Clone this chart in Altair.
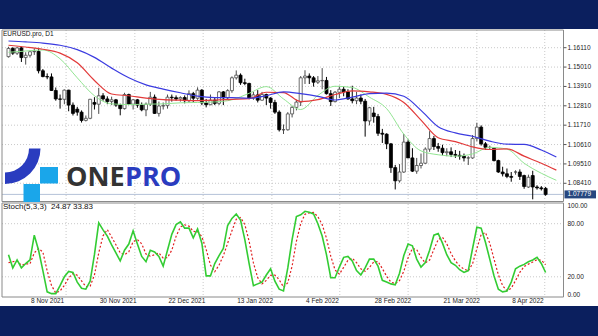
import altair as alt
import pandas as pd

# ---------------- data ----------------
OPEN = [1.1560, 1.1607, 1.1580, 1.1610, 1.1555, 1.1568, 1.1588, 1.1590, 1.1480, 1.1447,
        1.1445, 1.1368, 1.1320, 1.1318, 1.1370, 1.1285, 1.1262, 1.1245, 1.1198, 1.1210,
        1.1300, 1.1290, 1.1338, 1.1320, 1.1305, 1.1315, 1.1285, 1.1265, 1.1345, 1.1290,
        1.1315, 1.1285, 1.1258, 1.1290, 1.1330, 1.1238, 1.1280, 1.1282, 1.1330, 1.1327,
        1.1320, 1.1328, 1.1310, 1.1350, 1.1324, 1.1370, 1.1297, 1.1287, 1.1313, 1.1295,
        1.1360, 1.1326, 1.1367, 1.1440, 1.1455, 1.1412, 1.1408, 1.1325, 1.1343, 1.1313,
        1.1345, 1.1325, 1.1300, 1.1245, 1.1145, 1.1145, 1.1235, 1.1272, 1.1302, 1.1440,
        1.1450, 1.1440, 1.1415, 1.1423, 1.1425, 1.1350, 1.1305, 1.1358, 1.1375, 1.1360,
        1.1320, 1.1310, 1.1325, 1.1307, 1.1195, 1.1240, 1.1220, 1.1125, 1.1120, 1.1065,
        1.0930, 1.0855, 1.0905, 1.1075, 1.0985, 1.0910, 1.0942, 1.0955, 1.1035, 1.1095,
        1.1050, 1.1040, 1.1015, 1.1020, 1.1005, 1.1000, 1.0995, 1.0985, 1.0985, 1.1095,
        1.1160, 1.1065, 1.1045, 1.1040, 1.0970, 1.0905, 1.0895, 1.0880, 1.0905, 1.0905,
        1.0885, 1.0820, 1.0885, 1.0820, 1.0815, 1.0812]
HIGH = [1.1616, 1.1614, 1.1616, 1.1617, 1.1585, 1.1595, 1.1608, 1.1610, 1.1490, 1.1465,
        1.1465, 1.1385, 1.1345, 1.1374, 1.1372, 1.1300, 1.1275, 1.1255, 1.1226, 1.1320,
        1.1330, 1.1383, 1.1353, 1.1335, 1.1333, 1.1320, 1.1293, 1.1355, 1.1350, 1.1320,
        1.1320, 1.1300, 1.1300, 1.1360, 1.1345, 1.1305, 1.1300, 1.1345, 1.1345, 1.1340,
        1.1335, 1.1340, 1.1369, 1.1360, 1.1386, 1.1376, 1.1320, 1.1345, 1.1330, 1.1365,
        1.1365, 1.1375, 1.1448, 1.1482, 1.1465, 1.1435, 1.1412, 1.1360, 1.1370, 1.1360,
        1.1350, 1.1330, 1.1315, 1.1255, 1.1175, 1.1245, 1.1280, 1.1315, 1.1450, 1.1483,
        1.1465, 1.1450, 1.1450, 1.1495, 1.1445, 1.1370, 1.1365, 1.1395, 1.1390, 1.1375,
        1.1395, 1.1360, 1.1345, 1.1320, 1.1275, 1.1275, 1.1235, 1.1150, 1.1125, 1.1070,
        1.0945, 1.0950, 1.1121, 1.1090, 1.1040, 1.0985, 1.1010, 1.1045, 1.1137, 1.1110,
        1.1070, 1.1060, 1.1040, 1.1045, 1.1030, 1.1025, 1.1010, 1.0995, 1.1115, 1.1185,
        1.1170, 1.1075, 1.1055, 1.1045, 1.0975, 1.0935, 1.0925, 1.0905, 1.0915, 1.0920,
        1.0890, 1.0890, 1.0912, 1.0830, 1.0825, 1.0820]
LOW = [1.1555, 1.1570, 1.1570, 1.1530, 1.1515, 1.1555, 1.1570, 1.1465, 1.1443, 1.1432,
       1.1365, 1.1310, 1.1265, 1.1290, 1.1250, 1.1226, 1.1225, 1.1186, 1.1192, 1.1205,
       1.1260, 1.1235, 1.1310, 1.1290, 1.1285, 1.1275, 1.1227, 1.1260, 1.1285, 1.1260,
       1.1270, 1.1250, 1.1222, 1.1280, 1.1235, 1.1220, 1.1260, 1.1265, 1.1305, 1.1310,
       1.1305, 1.1295, 1.1300, 1.1300, 1.1315, 1.1285, 1.1272, 1.1285, 1.1285, 1.1285,
       1.1285, 1.1315, 1.1355, 1.1430, 1.1400, 1.1398, 1.1318, 1.1315, 1.1300, 1.1310,
       1.1285, 1.1265, 1.1235, 1.1135, 1.1121, 1.1140, 1.1215, 1.1255, 1.1280, 1.1405,
       1.1405, 1.1390, 1.1405, 1.1375, 1.1345, 1.1280, 1.1300, 1.1325, 1.1335, 1.1315,
       1.1295, 1.1290, 1.1290, 1.1106, 1.1170, 1.1185, 1.1110, 1.1070, 1.1035, 1.0900,
       1.0806, 1.0845, 1.0900, 1.0985, 1.0905, 1.0895, 1.0925, 1.0950, 1.1020, 1.1030,
       1.1020, 1.1000, 1.0995, 1.0990, 1.0985, 1.0975, 1.0965, 1.0945, 1.0980, 1.1080,
       1.1055, 1.1030, 1.1035, 1.0965, 1.0900, 1.0880, 1.0870, 1.0850, 1.0890, 1.0860,
       1.0810, 1.0815, 1.0750, 1.0805, 1.0800, 1.0770]
CLOSE = [1.1607, 1.1580, 1.1610, 1.1555, 1.1568, 1.1588, 1.1590, 1.1480, 1.1447, 1.1445,
         1.1368, 1.1320, 1.1318, 1.1370, 1.1285, 1.1238, 1.1245, 1.1198, 1.1210, 1.1318,
         1.1290, 1.1338, 1.1320, 1.1305, 1.1315, 1.1285, 1.1265, 1.1345, 1.1290, 1.1315,
         1.1285, 1.1258, 1.1290, 1.1330, 1.1238, 1.1280, 1.1282, 1.1330, 1.1327, 1.1320,
         1.1328, 1.1310, 1.1350, 1.1324, 1.1370, 1.1297, 1.1287, 1.1313, 1.1295, 1.1360,
         1.1326, 1.1367, 1.1440, 1.1455, 1.1412, 1.1408, 1.1325, 1.1343, 1.1313, 1.1345,
         1.1325, 1.1300, 1.1245, 1.1145, 1.1145, 1.1235, 1.1272, 1.1302, 1.1440, 1.1450,
         1.1440, 1.1415, 1.1423, 1.1425, 1.1350, 1.1305, 1.1358, 1.1375, 1.1360, 1.1320,
         1.1310, 1.1325, 1.1307, 1.1195, 1.1270, 1.1220, 1.1125, 1.1120, 1.1065, 1.0930,
         1.0855, 1.0905, 1.1075, 1.0985, 1.0910, 1.0942, 1.0955, 1.1035, 1.1095, 1.1050,
         1.1040, 1.1015, 1.1020, 1.1005, 1.1000, 1.0995, 1.0985, 1.0985, 1.1095, 1.1160,
         1.1065, 1.1045, 1.1045, 1.0970, 1.0905, 1.0895, 1.0880, 1.0875, 1.0905, 1.0880,
         1.0823, 1.0875, 1.0820, 1.0815, 1.0810, 1.07779]

STOCH_K = [45, 30, 39, 30, 35, 39, 67, 50, 27, 3, 1, 1, 10, 20, 26, 25, 14, 7, 6, 15,
           45, 81, 73, 66, 56, 47, 38, 50, 57, 72, 57, 43, 37, 50, 48, 43, 32, 50, 68, 79,
           82, 75, 75, 64, 74, 58, 21, 21, 35, 44, 52, 78, 86, 91, 84, 62, 35, 10, 12, 14,
           22, 29, 15, 6, 4, 30, 62, 88, 90, 94, 93, 91, 80, 66, 45, 19, 19, 31, 42, 43,
           38, 27, 22, 30, 40, 40, 32, 16, 14, 12, 11, 24, 44, 57, 55, 40, 31, 36, 50, 67,
           69, 58, 45, 36, 33, 28, 25, 27, 52, 76, 75, 59, 40, 21, 6, 3, 4, 14, 29, 32,
           34, 37, 39, 42, 35, 24.87]
STOCH_D = [36, 37, 38, 33, 34.7, 34.7, 47, 52, 48, 26.7, 10.3, 1.7, 4, 10.3, 18.7, 23.7, 21.7, 15.3, 9, 9.3,
           22, 47, 66.3, 73.3, 65, 56.3, 47, 45, 48.3, 59.7, 62, 57.3, 45.7, 43.3, 45, 47, 41, 41.7, 50, 65.7,
           76.3, 78.7, 77.3, 71.3, 71, 65.3, 51, 33.3, 25.7, 33.3, 43.7, 58, 72, 85, 87, 79, 60.3, 35.7, 19, 12,
           16, 21.7, 22, 16.7, 8.3, 13.3, 32, 60, 80, 90.7, 92.3, 92.7, 88, 79, 63.7, 43.3, 27.7, 23, 30.7, 38.7,
           41, 36, 29, 26.3, 30.7, 36.7, 37.3, 29.3, 20.7, 14, 12.3, 15.7, 26.3, 41.7, 52, 50.7, 42, 35.7, 39, 51,
           62, 64.7, 57.3, 46.3, 38, 32.3, 28.7, 26.7, 34.7, 51.7, 67.7, 70, 58, 40, 22.3, 10, 4.3, 7, 15.7, 25,
           31.7, 34.3, 36.7, 39.3, 38.7, 33.83]

MA_BARS = [0, 4, 8, 12, 16, 20, 24, 28, 32, 36, 40, 44, 48, 52, 56, 60, 64, 68, 72, 76,
           80, 84, 88, 92, 96, 100, 104, 108, 112, 116, 120, 124, 127.5]
MA_FAST = [1.1585, 1.1592, 1.1598, 1.1548, 1.1440, 1.1338, 1.1292, 1.1288, 1.1290, 1.1292,
           1.1298, 1.1300, 1.1303, 1.1315, 1.1352, 1.1390, 1.1320, 1.1260, 1.1340, 1.1392,
           1.1385, 1.1330, 1.1265, 1.1120, 1.1025, 1.1003, 1.0995, 1.1008, 1.1045, 1.1035,
           1.0955, 1.0898, 1.0858]
MA_MID = [1.1625, 1.1615, 1.1602, 1.1580, 1.1525, 1.1425, 1.1348, 1.1338, 1.1325, 1.1316,
          1.1313, 1.1311, 1.1313, 1.1318, 1.1322, 1.1358, 1.1356, 1.1305, 1.1316, 1.1345,
          1.1366, 1.1360, 1.1346, 1.1300, 1.1200, 1.1100, 1.1078, 1.1048, 1.1033, 1.1037,
          1.0995, 1.0955, 1.0916]
MA_SLOW = [1.1649, 1.1644, 1.1637, 1.1625, 1.1600, 1.1556, 1.1495, 1.1440, 1.1400, 1.1376,
           1.1355, 1.1336, 1.1328, 1.1327, 1.1324, 1.1338, 1.1360, 1.1350, 1.1335, 1.1314,
           1.1330, 1.1350, 1.1353, 1.1335, 1.1255, 1.1162, 1.1127, 1.1108, 1.1080, 1.1063,
           1.1062, 1.1030, 1.0990]

PRICE_TICKS = [1.16110, 1.15010, 1.13910, 1.12810, 1.11710, 1.10610, 1.09510, 1.08410]
STOCH_TICKS = [100, 80, 20, 0]
STOCH_GRID = [80, 20]
DATE_BARS = [5, 21, 37, 53, 69, 85, 101, 117]
DATE_LABELS = ["8 Nov 2021", "30 Nov 2021", "22 Dec 2021", "13 Jan 2022",
               "4 Feb 2022", "28 Feb 2022", "21 Mar 2022", "8 Apr 2022"]
VGRID_BARS = [13.4, 29.4, 45.3, 61.3, 77.1, 93.0, 109.0, 124.8]
TITLE_PRICE = "EURUSD.pro, D1"
STOCH_NAME = "Stoch(5,3,3)"
STOCH_VALUES = ["24.87", "33.83"]
LOGO_ONE, LOGO_PRO = "ONE", "PRO"

# ---------------- layout / scales ----------------
W, H = 598, 336
X0, PX = 3.5, 4.375
XR = [X0, X0 + 128 * PX]
RIGHT = XR[1]
P_TOP, P_BOT = 30, 201.5
S_TOP, S_BOT = 203, 297
xs = alt.Scale(domain=[0, 128], range=XR, nice=False, zero=False)
ps = alt.Scale(domain=[1.07376, 1.17115], range=[P_BOT, P_TOP], nice=False, zero=False)
ss = alt.Scale(domain=[0, 100], range=[294.5, 206], nice=False, zero=False)

FONT = "Liberation Sans"
NAVY = "#0b1f5e"

df = pd.DataFrame({"i": list(range(len(CLOSE))), "o": OPEN, "h": HIGH, "l": LOW,
                   "c": CLOSE, "k": STOCH_K, "d": STOCH_D})
df["dir"] = ["up" if c >= o else "down" for o, c in zip(OPEN, CLOSE)]
ma = pd.DataFrame({"b": MA_BARS, "fast": MA_FAST, "mid": MA_MID, "slow": MA_SLOW})
one = pd.DataFrame({"a": [0]})

def X(f):
    return alt.X(f, type="quantitative", scale=xs, axis=None)

def PY(f):
    return alt.Y(f, type="quantitative", scale=ps, axis=None)

def SY(f):
    return alt.Y(f, type="quantitative", scale=ss, axis=None)

layers = []

# navy bands
for y0, y1 in [(0, 29), (306, 336)]:
    layers.append(alt.Chart(one).mark_rect(color=NAVY).encode(
        x=alt.value(0), x2=alt.value(W), y=alt.value(y0), y2=alt.value(y1)))

# grids
layers.append(alt.Chart(pd.DataFrame({"p": PRICE_TICKS})).mark_rule(
    color="#c9c9c9", strokeDash=[1, 2], strokeWidth=1).encode(
    x=alt.value(2), x2=alt.value(RIGHT), y=PY("p")))
layers.append(alt.Chart(pd.DataFrame({"s": STOCH_GRID})).mark_rule(
    color="#c9c9c9", strokeDash=[1, 2], strokeWidth=1).encode(
    x=alt.value(2), x2=alt.value(RIGHT), y=SY("s")))
layers.append(alt.Chart(pd.DataFrame({"b": VGRID_BARS})).mark_rule(
    color="#c9c9c9", strokeDash=[1, 2], strokeWidth=1).encode(
    x=X("b"), y=alt.value(P_TOP), y2=alt.value(S_BOT)))

# current price line
last = pd.DataFrame({"p": [CLOSE[-1]], "t": [f"{CLOSE[-1]:.5f}"]})
layers.append(alt.Chart(last).mark_rule(color="#b4c2d8", strokeWidth=1).encode(
    x=alt.value(2), x2=alt.value(RIGHT), y=PY("p")))

# candles
layers.append(alt.Chart(df).mark_rule(strokeWidth=1).encode(
    x=X("i"), y=PY("l"), y2=alt.Y2("h"),
    color=alt.Color("dir:N", scale=alt.Scale(domain=["up", "down"], range=["#4a4a4a", "#000000"]), legend=None)))
layers.append(alt.Chart(df).mark_bar(size=3, strokeWidth=0.8).encode(
    x=X("i"), y=PY("o"), y2=alt.Y2("c"),
    fill=alt.Fill("dir:N", scale=alt.Scale(domain=["up", "down"], range=["#ffffff", "#000000"]), legend=None),
    stroke=alt.Stroke("dir:N", scale=alt.Scale(domain=["up", "down"], range=["#4a4a4a", "#000000"]), legend=None)))

# moving averages
for col, color, w in [("fast", "#92e592", 1), ("mid", "#e23a3a", 1.2), ("slow", "#3b3be0", 1.2)]:
    layers.append(alt.Chart(ma).mark_line(color=color, strokeWidth=w, interpolate="monotone").encode(
        x=X("b"), y=PY(col)))

# stochastic
layers.append(alt.Chart(df).mark_line(color="#e02020", strokeWidth=1.2, strokeDash=[2, 2]).encode(
    x=X("i"), y=SY("d")))
layers.append(alt.Chart(df).mark_line(color="#33cc33", strokeWidth=1.6).encode(
    x=X("i"), y=SY("k")))

# frames
for y0, y1 in [(P_TOP, P_BOT), (S_TOP, S_BOT)]:
    layers.append(alt.Chart(one).mark_rect(fill=None, stroke="#8a8a8a", strokeWidth=1).encode(
        x=alt.value(2), x2=alt.value(RIGHT), y=alt.value(y0), y2=alt.value(y1)))

# price labels + ticks
layers.append(alt.Chart(pd.DataFrame({"p": PRICE_TICKS})).mark_rule(color="#555555").encode(
    x=alt.value(RIGHT), x2=alt.value(RIGHT + 3), y=PY("p")))
layers.append(alt.Chart(pd.DataFrame({"p": PRICE_TICKS, "t": [f"{v:.5f}" for v in PRICE_TICKS]})).mark_text(
    align="left", baseline="middle", font=FONT, fontSize=6.5, color="#222222").encode(
    x=alt.value(RIGHT + 4), y=PY("p"), text="t:N"))
layers.append(alt.Chart(pd.DataFrame({"s": STOCH_TICKS, "t": [f"{v:.2f}" for v in STOCH_TICKS]})).mark_text(
    align="left", baseline="middle", font=FONT, fontSize=6.5, color="#222222").encode(
    x=alt.value(RIGHT + 4), y=SY("s"), text="t:N"))

# current price box
layers.append(alt.Chart(last).mark_rect(color="#27477f", yOffset=-4, y2Offset=4).encode(
    x=alt.value(RIGHT + 1), x2=alt.value(W - 2), y=PY("p"), y2=alt.Y2("p")))
layers.append(alt.Chart(last).mark_text(align="left", baseline="middle", font=FONT, fontSize=6.5,
                                        color="#ffffff").encode(
    x=alt.value(RIGHT + 4), y=PY("p"), text="t:N"))

# date labels
layers.append(alt.Chart(pd.DataFrame({"b": DATE_BARS, "t": DATE_LABELS})).mark_text(
    align="left", baseline="middle", font=FONT, fontSize=6.5, color="#222222", dx=1).encode(
    x=X("b"), y=alt.value(301), text="t:N"))

# titles
layers.append(alt.Chart(pd.DataFrame({"t": [TITLE_PRICE]})).mark_text(
    align="left", baseline="middle", font=FONT, fontSize=6.5, color="#111111").encode(
    x=alt.value(3), y=alt.value(33.5), text="t:N"))
layers.append(alt.Chart(pd.DataFrame({"t": [STOCH_NAME, *STOCH_VALUES], "x": [3, 51, 73]})).mark_text(
    align="left", baseline="middle", font=FONT, fontSize=8, color="#111111").encode(
    x=alt.X("x:Q", scale=None, axis=None), y=alt.value(207), text="t:N"))

# logo
layers.append(alt.Chart(one).mark_arc(color="#2a3cbf", radius=35.5, radius2=24,
                                      theta=1.5708, theta2=3.1416).encode(
    x=alt.value(5), y=alt.value(148.5)))
for x0, x1, y0, y1 in [(40, 58, 167, 183.5), (23.5, 40, 184, 202)]:
    layers.append(alt.Chart(one).mark_rect(color="#1aa6ea").encode(
        x=alt.value(x0), x2=alt.value(x1), y=alt.value(y0), y2=alt.value(y1)))
layers.append(alt.Chart(pd.DataFrame({"t": [LOGO_ONE]})).mark_text(
    align="left", baseline="alphabetic", font="Open Sans", fontWeight="bold", fontSize=27,
    color="#333333").encode(x=alt.value(66), y=alt.value(185.5), text="t:N"))
layers.append(alt.Chart(pd.DataFrame({"t": [LOGO_PRO]})).mark_text(
    align="left", baseline="alphabetic", font="Open Sans", fontWeight="bold", fontSize=27,
    color="#2a3cbf").encode(x=alt.value(125), y=alt.value(185.5), text="t:N"))

chart = alt.layer(*layers).resolve_scale(y="independent").properties(
    width=W, height=H, autosize=alt.AutoSizeParams(type="none"), padding=0,
    background="white").configure_view(stroke=None)

chart.save("out.html", embed_options={"renderer": "svg", "actions": False})
